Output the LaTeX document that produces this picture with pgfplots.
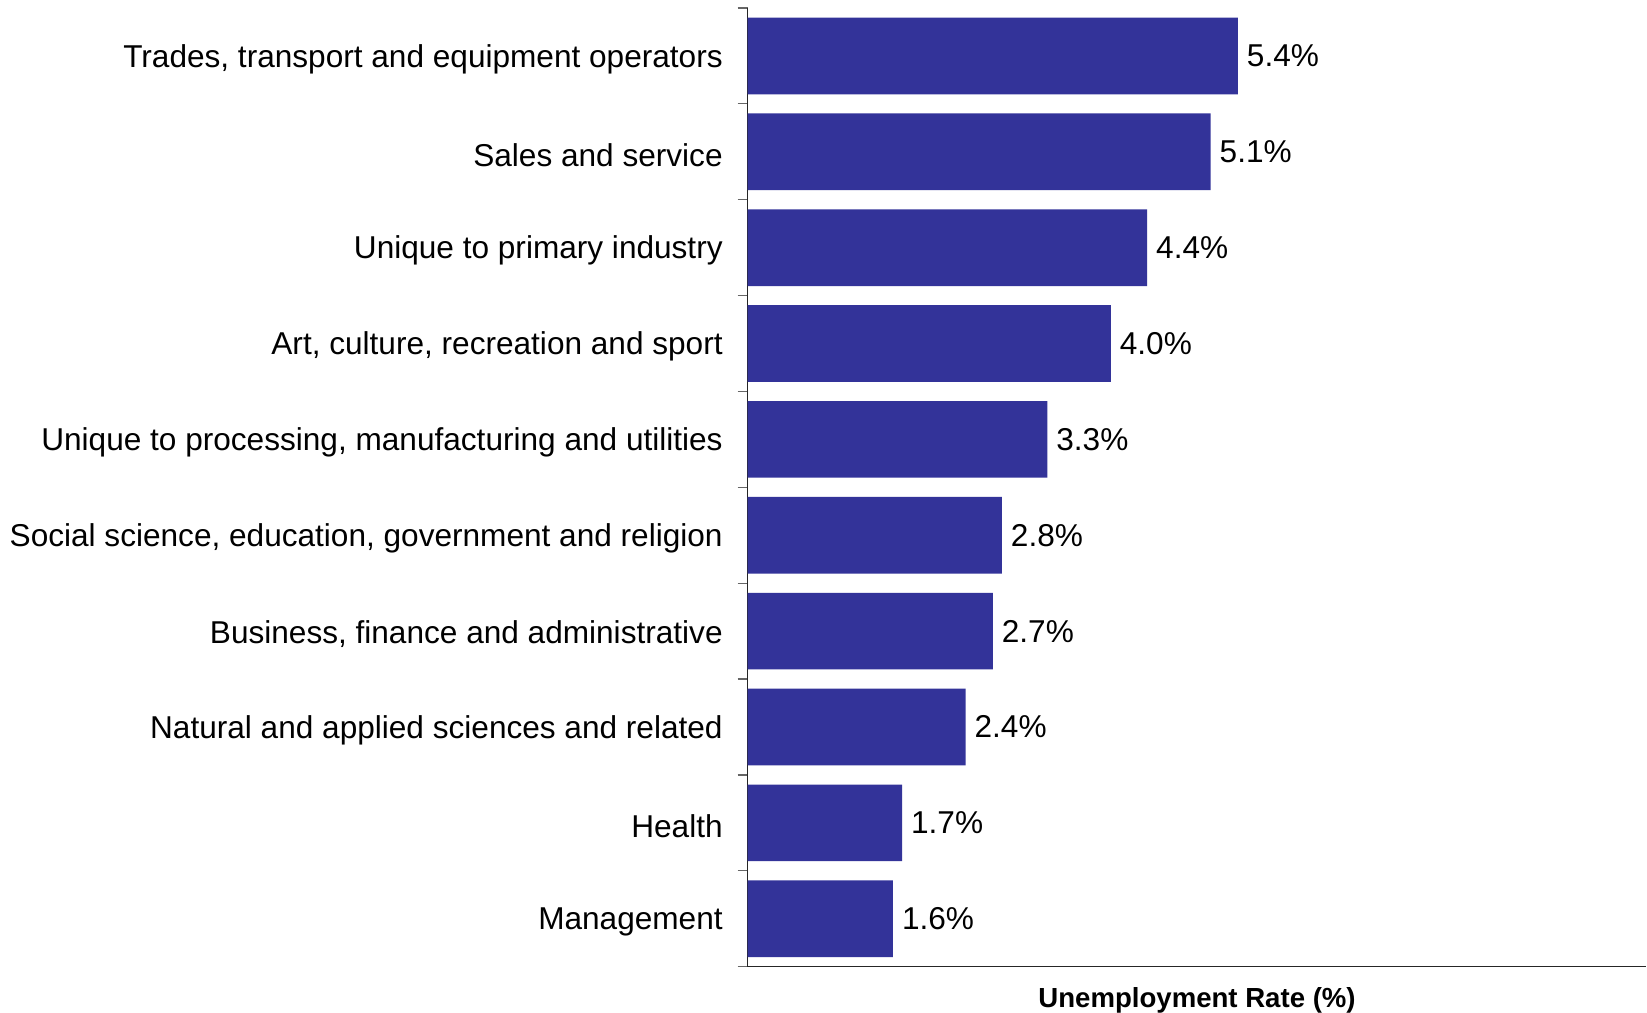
\documentclass[border=0pt]{standalone}
\usepackage{pgfplots}
\pgfplotsset{compat=1.18}
\usepackage{fontspec}
\setmainfont{Liberation Sans}
\definecolor{barblue}{RGB}{51,51,153}
\begin{document}
\begin{tikzpicture}
\begin{axis}[
  name=ax,
  scale only axis,
  width=449.5pt, height=479.5pt,
  xbar, bar width=0.8,
  xmin=0, xmax=9.9,
  ymin=-0.5, ymax=9.5,
  axis x line*=bottom, axis y line*=left,
  axis line style={black!85, line width=0.6pt},
  xtick=\empty,
  ytick={0,...,9},
  yticklabels={Management, Health, Natural and applied sciences and related,
    {Business, finance and administrative},
    {Social science, education, government and religion},
    {Unique to processing, manufacturing and utilities},
    {Art, culture, recreation and sport},
    Unique to primary industry, Sales and service,
    {Trades, transport and equipment operators}},
  major tick length=0pt,
  minor ytick={-0.5,0.5,...,9.5},
  minor tick length=5pt,
  tick align=outside,
  minor tick style={black!60, line width=0.6pt},
  /pgf/number format/assume math mode=true,
  yticklabel style={font=\fontsize{15.8}{18}\selectfont, xshift=-9pt, yshift=-1.5pt},
  nodes near coords={\pgfmathprintnumber[fixed,fixed zerofill,precision=1,assume math mode=true]{\pgfplotspointmeta}\%},
  nodes near coords style={font=\fontsize{15.8}{18}\selectfont, xshift=1pt},
  xlabel={\bfseries Unemployment Rate (\%)},
  xlabel style={font=\fontsize{13.8}{16}\selectfont, inner sep=0pt, yshift=-10pt},
]
\addplot[fill=barblue, draw=none] coordinates {
  (1.6,0) (1.7,1) (2.4,2) (2.7,3) (2.8,4)
  (3.3,5) (4.0,6) (4.4,7) (5.1,8) (5.4,9)
};
\end{axis}
\path ([xshift=-374pt,yshift=-22pt]ax.south west) rectangle ([yshift=4pt]ax.north east);
\end{tikzpicture}
\end{document}
